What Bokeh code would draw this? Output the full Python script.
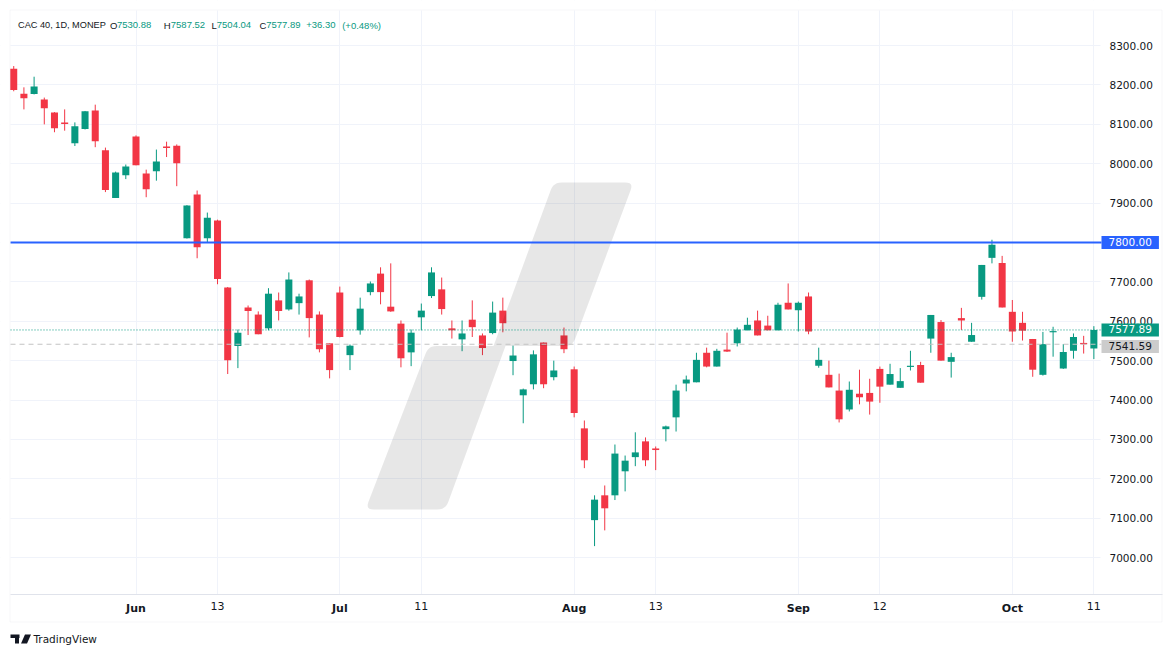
from bokeh.plotting import figure
from bokeh.models import (ColumnDataSource, FixedTicker, PrintfTickFormatter, Range1d,
                          Label, BoxAnnotation, PolyAnnotation)
from bokeh.embed import file_html
from bokeh.resources import INLINE

# ---------------- data (CAC 40, daily) ----------------
dates = [
    "2024-05-16", "2024-05-17", "2024-05-20", "2024-05-21", "2024-05-22", "2024-05-23", "2024-05-24",
    "2024-05-27", "2024-05-28", "2024-05-29", "2024-05-30", "2024-05-31",
    "2024-06-03", "2024-06-04", "2024-06-05", "2024-06-06", "2024-06-07",
    "2024-06-10", "2024-06-11", "2024-06-12", "2024-06-13", "2024-06-14",
    "2024-06-17", "2024-06-18", "2024-06-19", "2024-06-20", "2024-06-21",
    "2024-06-24", "2024-06-25", "2024-06-26", "2024-06-27", "2024-06-28",
    "2024-07-01", "2024-07-02", "2024-07-03", "2024-07-04", "2024-07-05",
    "2024-07-08", "2024-07-09", "2024-07-10", "2024-07-11", "2024-07-12",
    "2024-07-15", "2024-07-16", "2024-07-17", "2024-07-18", "2024-07-19",
    "2024-07-22", "2024-07-23", "2024-07-24", "2024-07-25", "2024-07-26",
    "2024-07-29", "2024-07-30", "2024-07-31", "2024-08-01", "2024-08-02",
    "2024-08-05", "2024-08-06", "2024-08-07", "2024-08-08", "2024-08-09",
    "2024-08-12", "2024-08-13", "2024-08-14", "2024-08-15", "2024-08-16",
    "2024-08-19", "2024-08-20", "2024-08-21", "2024-08-22", "2024-08-23",
    "2024-08-26", "2024-08-27", "2024-08-28", "2024-08-29", "2024-08-30",
    "2024-09-02", "2024-09-03", "2024-09-04", "2024-09-05", "2024-09-06",
    "2024-09-09", "2024-09-10", "2024-09-11", "2024-09-12", "2024-09-13",
    "2024-09-16", "2024-09-17", "2024-09-18", "2024-09-19", "2024-09-20",
    "2024-09-23", "2024-09-24", "2024-09-25", "2024-09-26", "2024-09-27",
    "2024-09-30", "2024-10-01", "2024-10-02", "2024-10-03", "2024-10-04",
    "2024-10-07", "2024-10-08", "2024-10-09", "2024-10-10", "2024-10-11",
]
opens = [
    8241, 8178, 8177, 8163, 8130, 8105, 8052, 8088, 8135, 8034, 7913, 7971,
    8069, 7975, 7981, 8044, 8046,
    7811, 7922, 7811, 7856, 7686,
    7537, 7635, 7617, 7582, 7653,
    7630, 7646, 7704, 7617, 7544,
    7673, 7514, 7577, 7674, 7721,
    7637, 7594, 7521, 7610, 7664,
    7681, 7582, 7554, 7604, 7564,
    7570, 7627, 7499, 7412, 7440,
    7546, 7458, 7564, 7478, 7328,
    7095, 7158, 7158, 7219, 7255,
    7295, 7277, 7326, 7356, 7442,
    7445, 7520, 7485, 7528, 7544,
    7577, 7602, 7589, 7577, 7647,
    7628, 7663, 7487, 7464, 7424,
    7376, 7416, 7418, 7479, 7439,
    7431, 7484, 7489, 7556, 7598,
    7497, 7608, 7548, 7662, 7761,
    7748, 7624, 7596, 7555, 7464,
    7572, 7480, 7525, 7545, 7530.88,
]
highs = [
    8248, 8194, 8221, 8168, 8131, 8138, 8105, 8134, 8150, 8041, 7980, 7998,
    8072, 7985, 8036, 8056, 8049,
    7895, 7932, 7876, 7858, 7687,
    7579, 7640, 7625, 7684, 7673,
    7724, 7670, 7706, 7625, 7544,
    7688, 7541, 7660, 7701, 7737,
    7747, 7602, 7579, 7645, 7737,
    7711, 7602, 7602, 7653, 7569,
    7650, 7660, 7538, 7429, 7526,
    7546, 7500, 7584, 7485, 7348,
    7158, 7183, 7287, 7259, 7318,
    7305, 7282, 7335, 7439, 7462,
    7520, 7533, 7530, 7571, 7584,
    7609, 7627, 7614, 7647, 7696,
    7650, 7673, 7533, 7500, 7467,
    7447, 7477, 7454, 7485, 7492,
    7481, 7525, 7497, 7616, 7603,
    7520, 7634, 7596, 7743, 7807,
    7766, 7654, 7624, 7555, 7573,
    7586, 7542, 7569, 7563, 7587.52,
]
lows = [
    8184, 8138, 8176, 8100, 8080, 8084, 8045, 8087, 8042, 7928, 7913, 7961,
    7996, 7915, 7957, 8017, 7943,
    7810, 7760, 7801, 7694, 7466,
    7481, 7565, 7567, 7577, 7602,
    7627, 7617, 7559, 7521, 7455,
    7559, 7476, 7566, 7666, 7643,
    7624, 7483, 7486, 7577, 7659,
    7617, 7556, 7524, 7560, 7514,
    7567, 7572, 7463, 7341, 7427,
    7430, 7450, 7519, 7356, 7227,
    7029, 7069, 7146, 7168, 7232,
    7232, 7222, 7295, 7320, 7422,
    7445, 7483, 7485, 7522, 7536,
    7577, 7564, 7577, 7577, 7630,
    7574, 7567, 7482, 7432, 7343,
    7371, 7389, 7363, 7393, 7439,
    7431, 7475, 7444, 7520, 7500,
    7457, 7578, 7548, 7655, 7747,
    7635, 7548, 7551, 7459, 7462,
    7510, 7479, 7505, 7518, 7504.04,
]
closes = [
    8187, 8166, 8196, 8141, 8090, 8101, 8095, 8133, 8057, 7933, 7978, 7993,
    7996, 7935, 8006, 8040, 8001,
    7894, 7788, 7863, 7707, 7501,
    7571, 7626, 7567, 7670, 7626,
    7706, 7663, 7608, 7529, 7476,
    7560, 7538, 7632, 7696, 7674,
    7625, 7506, 7571, 7627, 7724,
    7631, 7577, 7569, 7585, 7532,
    7622, 7595, 7513, 7427, 7516,
    7440, 7475, 7529, 7367, 7247,
    7147, 7125, 7264, 7246, 7267,
    7247, 7273, 7333, 7424, 7452,
    7502, 7485, 7525, 7523, 7579,
    7591, 7564, 7577, 7642, 7630,
    7647, 7574, 7502, 7432, 7351,
    7426, 7407, 7396, 7434, 7466,
    7448, 7487, 7444, 7616, 7500,
    7509, 7602, 7565, 7743, 7794,
    7635, 7574, 7576, 7477, 7542,
    7575, 7522, 7560, 7541.59, 7577.89,
]

x_tick_dates = ["2024-06-03", "2024-06-13", "2024-07-01", "2024-07-11", "2024-08-01",
                "2024-08-13", "2024-09-02", "2024-09-12", "2024-10-01", "2024-10-11"]
x_tick_labels = ["Jun", "13", "Jul", "11", "Aug", "13", "Sep", "12", "Oct", "11"]
x_tick_is_month = [True, False, True, False, True, False, True, False, True, False]
y_ticks = [7000, 7100, 7200, 7300, 7400, 7500, 7600, 7700, 7800, 7900, 8000, 8100, 8200, 8300]

level_price = 7800.00
prev_close = 7541.59
symbol_text = "CAC 40, 1D, MONEP"
change_text = "+36.30"
change_pct_text = "(+0.48%)"

# ---------------- style / geometry ----------------
GREEN = "#089981"
RED = "#f23645"
BLUE = "#2962ff"
TEXT = "#131722"
GRID = "#f0f3fa"
FRAME = "#e0e3eb"
HEAD_FONT = "Liberation Sans"
AXIS_FONT = "DejaVu Sans"

W, H = 1168, 652
PANE_L, PANE_T, PANE_R, PANE_B = 10, 10, 1100, 594      # candle pane (page px)
BOX_R, BOX_B = 1161.5, 621.5                           # outer chart box (page px)
PX_PER_BAR = 10.19
REF_IDX, REF_PX = 12, 135.5            # 2024-06-03 sits at x=135.5px
PX_PER_PT = 0.3938
REF_PRICE, REF_PY = 7800.0, 242.0

X_START = REF_IDX - REF_PX / PX_PER_BAR
X_END = X_START + W / PX_PER_BAR
Y_END = REF_PRICE + REF_PY / PX_PER_PT
Y_START = Y_END - H / PX_PER_PT


def dx(px):
    return X_START + px / PX_PER_BAR


def dy(py):
    return Y_END - py / PX_PER_PT


def sy(py):
    return H - py


p = figure(width=W, height=H, output_backend="svg", toolbar_location=None,
           x_range=Range1d(X_START, X_END), y_range=Range1d(Y_START, Y_END),
           y_axis_location="right", min_border=0)
p.outline_line_color = None
p.background_fill_color = "white"
p.border_fill_color = "white"

# grid
tick_idx = [dates.index(d) for d in x_tick_dates]
p.xgrid.ticker = FixedTicker(ticks=tick_idx)
p.ygrid.ticker = FixedTicker(ticks=y_ticks)
p.xgrid.grid_line_color = GRID
p.ygrid.grid_line_color = GRID

# white masks so the grid stays inside the candle pane
for l, r, t, b in [(0, PANE_L, 0, H), (0, W, 0, PANE_T), (PANE_R, W, 0, H), (0, W, PANE_B, H)]:
    p.add_layout(BoxAnnotation(left=l, right=r, top=sy(t), bottom=sy(b),
                               left_units="screen", right_units="screen",
                               top_units="screen", bottom_units="screen",
                               fill_color="white", fill_alpha=1, line_color=None, level="underlay"))

# price scale
ya = p.yaxis[0]
ya.fixed_location = dx(PANE_R)
ya.ticker = FixedTicker(ticks=y_ticks)
ya.formatter = PrintfTickFormatter(format="%.2f")
ya.axis_line_color = None
ya.major_tick_line_color = None
ya.minor_tick_line_color = None
ya.major_tick_out = 0
ya.major_tick_in = 0
ya.major_label_standoff = 9
ya.major_label_text_font = AXIS_FONT
ya.major_label_text_font_size = "10.5px"
ya.major_label_text_color = TEXT

# time scale
xa = p.xaxis[0]
xa.fixed_location = dy(PANE_B)
xa.bounds = (dx(PANE_L - 0.5), dx(BOX_R))
xa.ticker = FixedTicker(ticks=tick_idx)
xa.major_label_overrides = {i: ("" if m else t) for i, t, m in zip(tick_idx, x_tick_labels, x_tick_is_month)}
xa.axis_line_color = FRAME
xa.major_tick_line_color = None
xa.minor_tick_line_color = None
xa.major_tick_out = 0
xa.major_tick_in = 0
xa.major_label_standoff = 7
xa.major_label_text_font = AXIS_FONT
xa.major_label_text_font_size = "11px"
xa.major_label_text_color = TEXT

# ---------------- candles ----------------
idx = list(range(len(dates)))
colors = [GREEN if c >= o else RED for o, c in zip(opens, closes)]
src = ColumnDataSource(dict(
    x=idx, high=highs, low=lows,
    top=[max(o, c) for o, c in zip(opens, closes)],
    bottom=[min(o, c) for o, c in zip(opens, closes)],
    color=colors,
))
p.segment(x0="x", y0="high", x1="x", y1="low", line_color="color", line_width=1, source=src)
p.vbar(x="x", width=0.69, top="top", bottom="bottom", fill_color="color", line_color=None, source=src)


# ---------------- watermark (decoration, page px -> data) ----------------
def rounded(points, r, round_flags):
    out = []
    n = len(points)
    for i in range(n):
        x, y = points[i]
        if not round_flags[i]:
            out.append((x, y))
            continue
        xp, yp = points[i - 1]
        xn, yn = points[(i + 1) % n]
        dp = ((xp - x) ** 2 + (yp - y) ** 2) ** 0.5
        dn = ((xn - x) ** 2 + (yn - y) ** 2) ** 0.5
        ax, ay = x + (xp - x) * r / dp, y + (yp - y) * r / dp
        bx, by = x + (xn - x) * r / dn, y + (yn - y) * r / dn
        for k in range(7):
            t = k / 6
            out.append(((1 - t) ** 2 * ax + 2 * (1 - t) * t * x + t ** 2 * bx,
                        (1 - t) ** 2 * ay + 2 * (1 - t) * t * y + t ** 2 * by))
    return out


wm_px = [(553, 182), (633, 182), (572, 345.5), (505, 345.5),
         (445, 509), (365, 509), (428, 345.5), (493, 345.5)]
wm_round = [True, True, True, False, True, True, True, False]
wm = rounded(wm_px, 8, wm_round)
p.patch([dx(a) for a, b in wm], [dy(b) for a, b in wm], fill_color="black", fill_alpha=0.095, line_color=None)

# ---------------- price lines ----------------
x_line0, x_line1 = dx(PANE_L), dx(PANE_R + 1)
p.segment(x0=[x_line0], x1=[x_line1], y0=[prev_close], y1=[prev_close],
          line_color="#c3c3c3", line_width=1, line_dash="5 4")
p.segment(x0=[x_line0], x1=[x_line1], y0=[closes[-1]], y1=[closes[-1]],
          line_color=GREEN, line_width=1, line_dash="1 2")
p.segment(x0=[x_line0], x1=[x_line1], y0=[level_price], y1=[level_price],
          line_color=BLUE, line_width=2)


# ---------------- texts ----------------
def add_text(text, px, py, color=TEXT, size="9.5px", font=HEAD_FONT, bold=False, align="left"):
    p.add_layout(Label(x=px, y=sy(py), x_units="screen", y_units="screen", text=text,
                       text_color=color, text_font=font, text_font_size=size,
                       text_font_style="bold" if bold else "normal",
                       text_align=align, text_baseline="middle"))


HY = 24.5
add_text(symbol_text, 17.5, HY, size="9.2px")
add_text("O", 109.5, HY)
add_text(f"{opens[-1]:.2f}", 116.4, HY, GREEN)
add_text("H", 163.3, HY)
add_text(f"{highs[-1]:.2f}", 170.3, HY, GREEN)
add_text("L", 211, HY)
add_text(f"{lows[-1]:.2f}", 216.3, HY, GREEN)
add_text("C", 259, HY)
add_text(f"{closes[-1]:.2f}", 265.7, HY, GREEN)
add_text(change_text, 305.7, HY, GREEN)
add_text(change_pct_text, 341.7, HY, GREEN)

# bold month labels on the time scale
for i, t, m in zip(tick_idx, x_tick_labels, x_tick_is_month):
    if m:
        p.add_layout(Label(x=i, y=sy(608), x_units="data", y_units="screen", text=t,
                           text_color=TEXT, text_font=AXIS_FONT, text_font_size="11px",
                           text_font_style="bold", text_align="center", text_baseline="middle"))


# price scale badges
def badge(text, price, bg, fg, dy_px=0.0):
    p.add_layout(Label(x=PANE_R + 1, y=price, x_units="screen", y_units="data", y_offset=dy_px,
                       text=text, text_color=fg, text_font=AXIS_FONT, text_font_size="10.5px",
                       text_align="left", text_baseline="middle",
                       background_fill_color=bg,
                       padding=dict(left=7, right=7, top=2, bottom=3)))


badge(f"{level_price:.2f}", level_price, BLUE, "white")
badge(f"{closes[-1]:.2f}", closes[-1], GREEN, "white")
badge(f"{prev_close:.2f}", prev_close, "#cccccc", TEXT, dy_px=-2.3)

# outer chart box
p.add_layout(BoxAnnotation(left=PANE_L - 0.5, right=BOX_R, top=sy(PANE_T - 0.5), bottom=sy(BOX_B),
                           left_units="screen", right_units="screen",
                           top_units="screen", bottom_units="screen",
                           fill_color=None, line_color=FRAME, line_width=1))

# TradingView attribution
p.add_layout(PolyAnnotation(xs=[10, 19, 19, 18.5, 18.5, 14.5, 14.5, 10],
                            ys=[sy(634), sy(634), sy(637.5), sy(637.5), sy(643), sy(643), sy(637.5), sy(637.5)],
                            xs_units="screen", ys_units="screen",
                            fill_color=TEXT, fill_alpha=1, line_color=None))
p.add_layout(PolyAnnotation(xs=[24.5, 30.5, 26.5, 20.5],
                            ys=[sy(634), sy(634), sy(643), sy(643)],
                            xs_units="screen", ys_units="screen",
                            fill_color=TEXT, fill_alpha=1, line_color=None))
add_text("TradingView", 33, 638.5, TEXT, "10.5px", font=AXIS_FONT)

open("out.html", "w").write(file_html(p, INLINE))
